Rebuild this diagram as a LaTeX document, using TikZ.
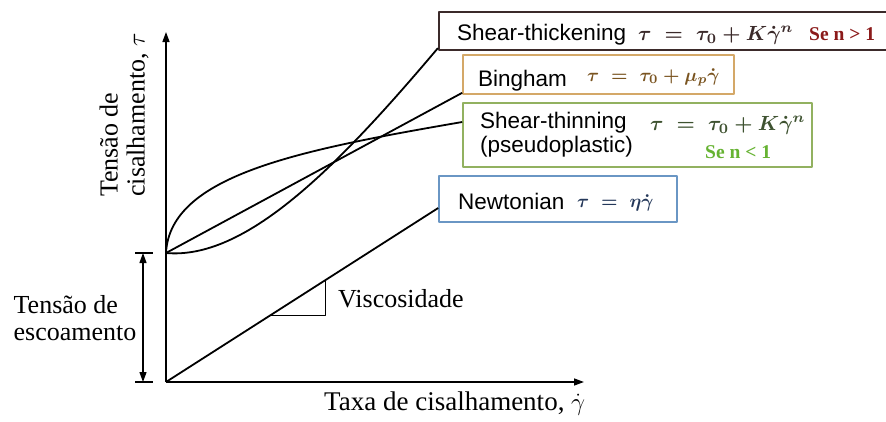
\documentclass[tikz,border=0pt]{standalone}
\usepackage{fontspec}
\usepackage{graphicx}
\setmainfont{Liberation Serif}
\newfontfamily\arialf{Liberation Sans}
\usetikzlibrary{arrows.meta,calc}
\definecolor{thkb}{HTML}{3B2A2A}
\definecolor{thkr}{HTML}{8B1A1A}
\definecolor{bngb}{HTML}{D4A868}
\definecolor{bngt}{HTML}{7A5420}
\definecolor{thnb}{HTML}{92B160}
\definecolor{thnt}{HTML}{3E5230}
\definecolor{thng}{HTML}{66B332}
\definecolor{nwtb}{HTML}{6A96C4}
\definecolor{nwtt}{HTML}{24385A}
\begin{document}
\begin{tikzpicture}[x=1pt,y=-1pt,line join=round,
  box/.style={draw,rectangle,inner sep=0pt,line width=1.6pt},
  curve/.style={line width=1.8pt},
  axis/.style={line width=1.4pt,-{Triangle[length=10pt,width=7pt]}},
  txt/.style={inner sep=0pt,anchor=base west},
  sans/.style={font=\arialf\fontsize{22.5}{27}\selectfont},
  ser/.style={font=\fontsize{26}{27}\selectfont},
  eq/.style={inner sep=0pt,anchor=base west,font=\boldmath},
  cond/.style={font=\bfseries\fontsize{19.5}{22}\selectfont},
]
\fill[white] (0,0) rectangle (886,421);
\useasboundingbox (0,0) rectangle (886,421);

% axes
\coordinate (O) at (166,382);
\coordinate (Y0) at (166,253);
\coordinate (YT) at (166,32);
\coordinate (XT) at (584,382);
\draw[axis] (O) -- (YT);
\draw[axis] (O) -- (XT);

% boxes
\node[box,draw=thkb,line width=2.2pt,minimum width=449pt,minimum height=38pt] (thick) at (663.5,31) {};
\node[box,draw=bngb,minimum width=271pt,minimum height=39pt] (bing) at (598.5,74.5) {};
\node[box,draw=thnb,minimum width=349pt,minimum height=64pt] (thin) at (637.5,135) {};
\node[box,draw=nwtb,minimum width=238pt,minimum height=46pt] (newt) at (558,199) {};

% box texts
\node[txt,sans] (tk1) at (457,40) {Shear-thickening};
\node[eq,text=thkb] (tk2) at (638,40) {\scalebox{2.05}{$\tau\;=\;\tau_0+K\dot{\gamma}^n$}};
\node[txt,cond,text=thkr] (tk3) at (809,40) {Se n > 1};

\node[txt,sans] (bg1) at (478,86) {Bingham};
\node[eq,text=bngt] (bg2) at (587,81) {\scalebox{1.85}{$\tau\;=\;\tau_0+\mu_p\dot{\gamma}$}};

\node[txt,sans] (tn1) at (480,128) {Shear-thinning};
\node[txt,sans] (tn2) at (480,152) {(pseudoplastic)};
\node[eq,text=thnt] (tn3) at (650,130) {\scalebox{2.05}{$\tau\;=\;\tau_0+K\dot{\gamma}^n$}};
\node[txt,cond,text=thng] (tn4) at (705,158) {Se n < 1};

\node[txt,sans] (nw1) at (458,209) {Newtonian};
\node[eq,text=nwtt] (nw2) at (577,207) {\scalebox{1.85}{$\tau\;=\;\eta\dot{\gamma}$}};

% curves
\draw[curve] (O) -- ([yshift=-9pt]newt.west) coordinate (NE);
\path (O) -- (NE) coordinate[pos=0.381] (v1) coordinate[pos=0.586] (v2);
\draw[line width=1.2pt] (v1) -| (v2);
\node[txt,ser] (visc) at (338,307) {Viscosidade};

\draw[curve] (Y0) -- ([yshift=2pt]bing.south west);
\draw[curve] (Y0) .. controls (170,175) and (300,150) .. ([yshift=13pt]thin.west);
\draw[curve] (Y0) .. controls (245,260) and (335,170) .. ([yshift=3pt]thick.south west);

% yield stress dimension
\coordinate (dT) at (143,253);
\coordinate (dB) at (143,382);
\draw[line width=1.2pt,{Triangle[length=10pt,width=7pt]}-{Triangle[length=10pt,width=7pt]}] (dT) -- (dB);
\draw[line width=1.2pt] ([xshift=-8pt]dT) -- ([xshift=10pt]dT);
\draw[line width=1.2pt] ([xshift=-8pt]dB) -- ([xshift=10pt]dB);

% labels
\node[ser,align=left,inner sep=0pt] (esc) at (75,318) {Tensão de\\escoamento};
\node[ser,align=left,inner sep=0pt,rotate=90] (ylab) at (124,115) {Tensão de\\cisalhamento, $\tau$};
\node[txt,font=\fontsize{27}{30}\selectfont] (xlab) at (324,410) {Taxa de cisalhamento, $\dot{\gamma}$};
\end{tikzpicture}
\end{document}
